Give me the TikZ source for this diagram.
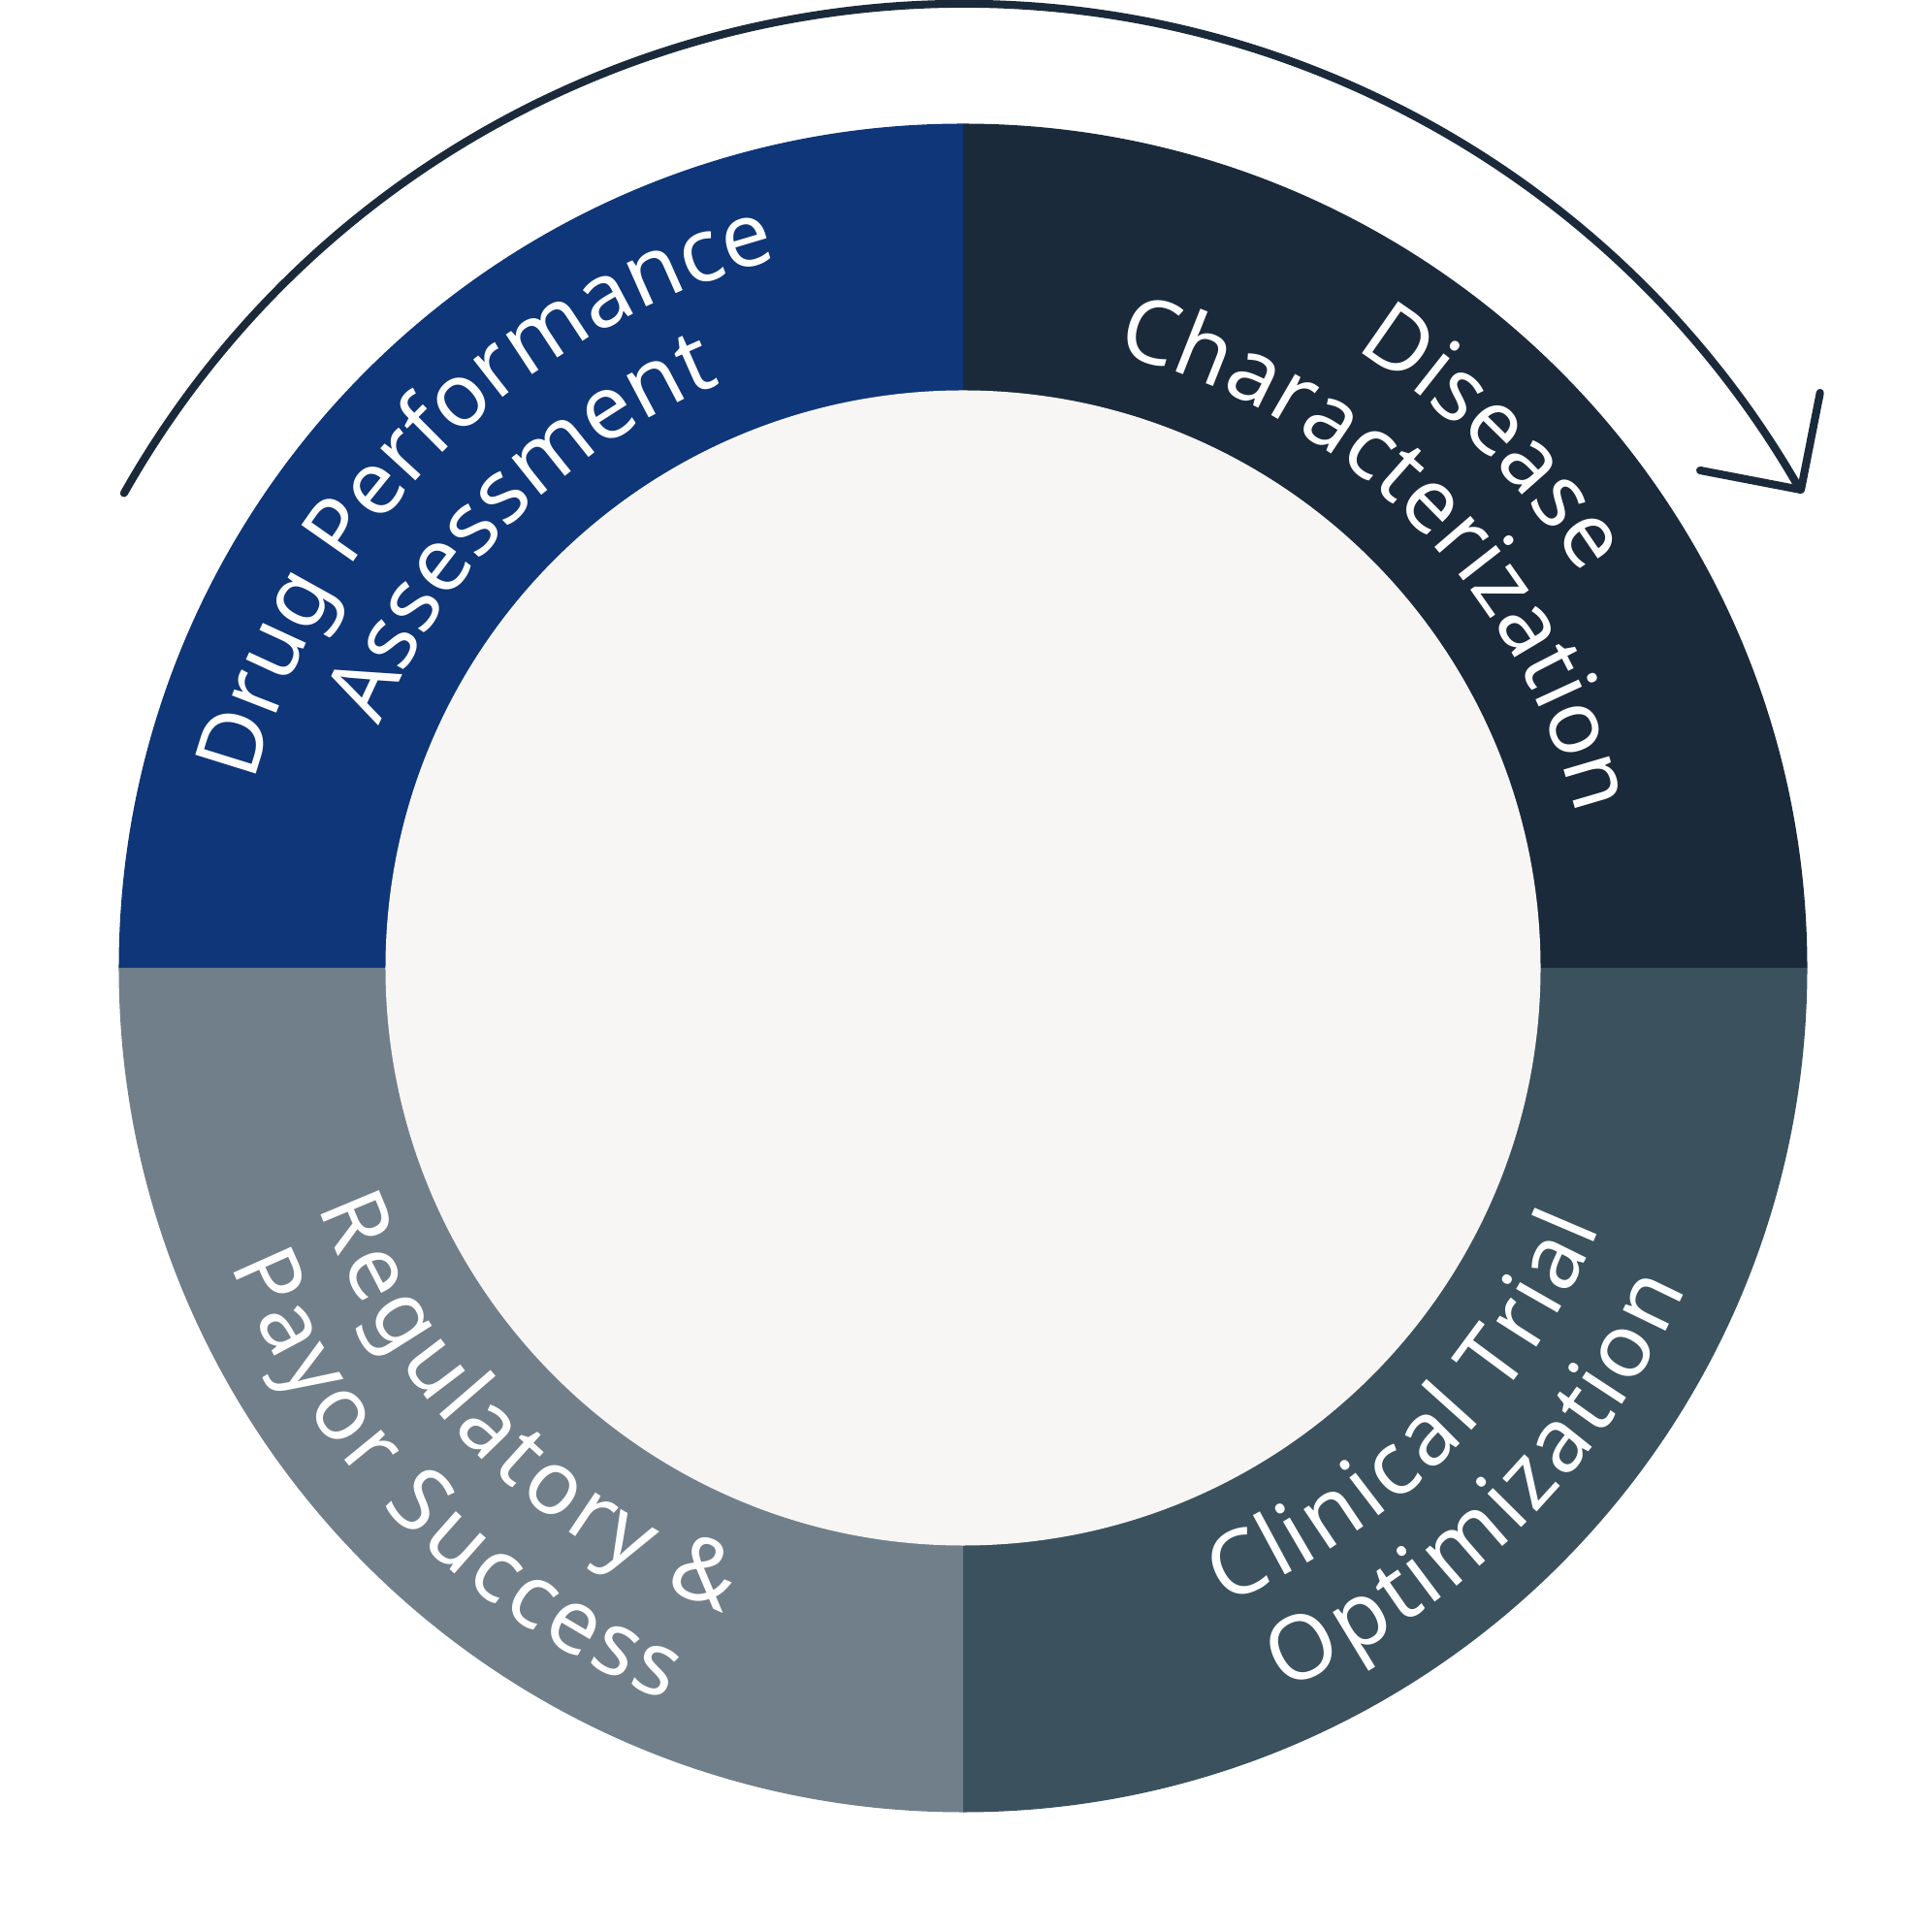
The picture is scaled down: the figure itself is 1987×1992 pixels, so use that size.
\documentclass[tikz,border=0pt]{standalone}
\usepackage{fontspec}
\newfontfamily\labfont{Noto Sans}
\usetikzlibrary{decorations.text}
\definecolor{qblue}{HTML}{0E3678}
\definecolor{qnavy}{HTML}{1A2A3A}
\definecolor{qslate}{HTML}{3B525E}
\definecolor{qgray}{HTML}{717F8A}
\definecolor{qinner}{HTML}{F7F6F4}
\definecolor{qarrow}{HTML}{1B2A3B}
\newcommand{\lf}{\labfont\fontsize{26}{31}\selectfont}
\begin{document}
\begin{tikzpicture}[x=0.01cm,y=0.01cm,
  ringtext/.style={decorate, decoration={text along path, text align=center, text color=white, text={|\lf|#1}}},
  ringtextlow/.style={decorate, decoration={text along path, text align=center, text color=white, raise=-0.65cm, text={|\lf|#1}}},
  cyclearrow/.style={draw=qarrow, line width=2.3pt, line cap=round, line join=round}]
\useasboundingbox[fill=white] (-993,-994) rectangle (994,998);
% ring quadrants
\fill[qblue]  (0,0) -- (90:870.5) arc (90:180:870.5) -- cycle;
\fill[qnavy]  (0,0) -- (0:870.5) arc (0:90:870.5) -- cycle;
\fill[qslate] (0,0) -- (270:870.5) arc (270:360:870.5) -- cycle;
\fill[qgray]  (0,0) -- (180:870.5) arc (180:270:870.5) -- cycle;
\fill[qinner] (0,0) circle (595.5);
% cycle arrow
\coordinate (arcstart) at (150.5:994);
\coordinate (tip) at (864,493);
\coordinate (arm1) at (883.7,593);
\coordinate (arm2) at (760,513);
\draw[cyclearrow] (arcstart) arc (150.5:29.75:994);
\draw[cyclearrow] (arm1) -- (tip) -- (arm2);
% labels (upper half: baseline on path, letters point outwards)
\path[ringtext={Disease}] (105:755) arc (105:-15:755);
\path[ringtext={Characterization}] (110:652) arc (110:-20:652);
\path[ringtext={Drug Performance}] (195:755) arc (195:75:755);
\path[ringtext={Assessment}] (200:652) arc (200:70:652);
% labels (lower half: letters point inwards)
\path[ringtextlow={Regulatory {\&}}] (160:644) arc (160:290:644);
\path[ringtextlow={Payor Success}] (165:750) arc (165:285:750);
\path[ringtextlow={Clinical Trial}] (250:644) arc (250:380:644);
\path[ringtextlow={Optimization}] (255:750) arc (255:375:750);
\end{tikzpicture}
\end{document}
